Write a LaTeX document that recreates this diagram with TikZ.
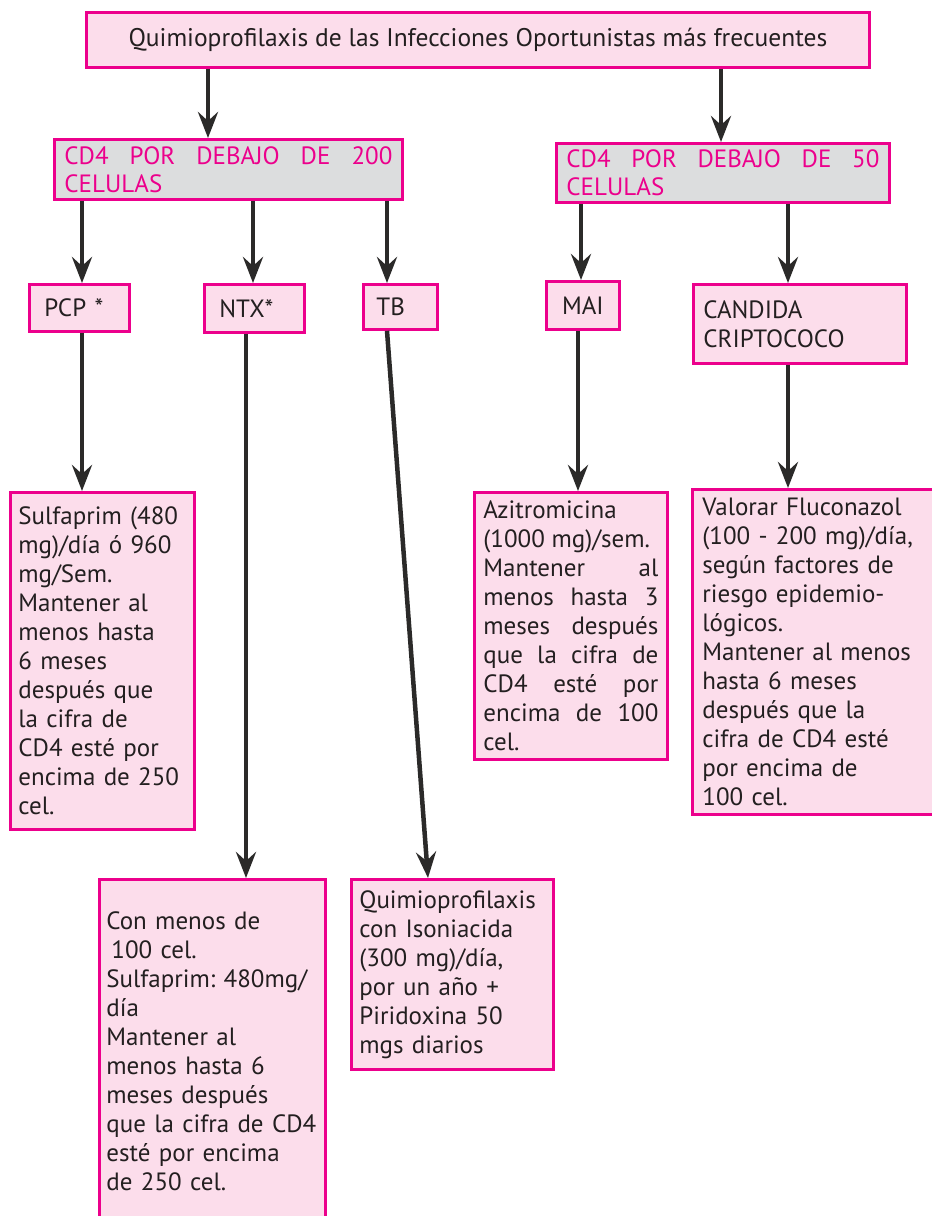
\documentclass[tikz,border=0pt]{standalone}
\usepackage{fontspec}
\setmainfont{PT Sans}
\usetikzlibrary{arrows.meta}
\definecolor{mag}{HTML}{EC008C}
\definecolor{pinkf}{HTML}{FCDDEB}
\definecolor{grayf}{HTML}{DCDDDE}
\definecolor{txt}{HTML}{231F20}
\definecolor{arrc}{HTML}{2B2A29}
\frenchspacing
\begin{document}
\begin{tikzpicture}[x=1pt,y=-1pt,
 box/.style={draw=mag, line width=2.8pt, fill=pinkf, anchor=north west, inner sep=0pt, text=txt, font=\fontsize{25pt}{29pt}\selectfont},
 graybox/.style={box, fill=grayf, text=mag, font=\fontsize{25pt}{28pt}\selectfont},
 arr/.style={draw=arrc, line width=4.5pt, -{Stealth[length=26pt,width=20pt,inset=9pt]}},
]
\useasboundingbox (0,0) rectangle (932,1216);
\fill[white] (0,0) rectangle (932,1216);
\node[box, minimum width=783pt, minimum height=55pt, font=\fontsize{25.5pt}{29pt}\selectfont] (top) at (85,11) {Quimioprofilaxis de las Infecciones Oportunistas más frecuentes};
\node[graybox, minimum width=348pt, minimum height=60pt] (cd200) at (53,138) {\parbox{328pt}{\hyphenpenalty=10000 CD4 POR DEBAJO DE 200\linebreak CELULAS}};
\node[graybox, minimum width=333pt, minimum height=59pt] (cd50) at (555,142) {\parbox{313pt}{\hyphenpenalty=10000 CD4 POR DEBAJO DE 50\linebreak CELULAS}};
\node[box, minimum width=100pt, minimum height=47pt, text width=70pt, align=left] (pcp) at (28,283) {PCP *};
\node[box, minimum width=100pt, minimum height=48pt, text width=70pt, align=left] (ntx) at (203,283) {NTX*};
\node[box, minimum width=74pt, minimum height=45pt, text width=48pt, align=left] (tb) at (362,283) {TB};
\node[box, minimum width=73pt, minimum height=48pt, align=center] (mai) at (545,280) {MAI};
\node[box, minimum width=213pt, minimum height=79pt, text width=193pt, align=left] (cand) at (692,283) {CANDIDA\\CRIPTOCOCO};
\node[box, minimum width=184pt, minimum height=337pt, text width=168pt, align=left] (sulfa) at (9,491) {Sulfaprim (480\\mg)/día ó 960\\mg/Sem.\\Mantener al\\menos hasta\\6 meses\\después que\\la cifra de\\CD4 esté por\\encima de 250\\cel.};
\node[box, minimum width=193pt, minimum height=267pt] (azit) at (473,491) {\parbox{175pt}{\hyphenpenalty=10000 Azitromicina\\(1000 mg)/sem.\\Mantener al\linebreak menos hasta 3\linebreak meses después\linebreak que la cifra de\linebreak CD4 esté por\linebreak encima de 100\linebreak cel.}};
\node[box, minimum width=254pt, minimum height=325pt, text width=234pt, align=left] (valo) at (691,488) {Valorar Fluconazol\\(100 - 200 mg)/día,\\según factores de\\riesgo epidemio-\\lógicos.\\Mantener al menos\\hasta 6 meses\\después que la\\cifra de CD4 esté\\por encima de\\100 cel.};
\node[box, minimum width=226pt, minimum height=344pt, text width=212pt, align=left] (conm) at (98,878) {Con menos de\\\hspace*{5pt}100 cel.\\Sulfaprim: 480mg/\\día\\Mantener al\\menos hasta 6\\meses después\\que la cifra de CD4\\esté por encima\\de 250 cel.};
\node[box, minimum width=202pt, minimum height=190pt, text width=186pt, align=left] (quim) at (350,878) {Quimioprofilaxis\\con Isoniacida\\(300 mg)/día,\\por un año +\\Piridoxina 50\\mgs diarios};
\draw[arr] (top.south -| 208,0) -- (cd200.north -| 208,0);
\draw[arr] (top.south -| 721,0) -- (cd50.north -| 721,0);
\draw[arr] (cd200.south -| 82,0) -- (pcp.north -| 82,0);
\draw[arr] (cd200.south -| 253,0) -- (ntx.north -| 253,0);
\draw[arr] (cd200.south -| 387,0) -- (tb.north -| 387,0);
\draw[arr] (cd50.south -| 581,0) -- (mai.north -| 581,0);
\draw[arr] (cd50.south -| 788,0) -- (cand.north -| 788,0);
\draw[arr] (pcp.south -| 82,0) -- (sulfa.north -| 82,0);
\draw[arr] (ntx.south -| 246,0) -- (conm.north -| 246,0);
\draw[arr] (tb.south -| 387,0) -- (quim.north -| 428,0);
\draw[arr] (mai.south -| 578,0) -- (azit.north -| 578,0);
\draw[arr] (cand.south -| 788,0) -- (valo.north -| 788,0);
\end{tikzpicture}
\end{document}
